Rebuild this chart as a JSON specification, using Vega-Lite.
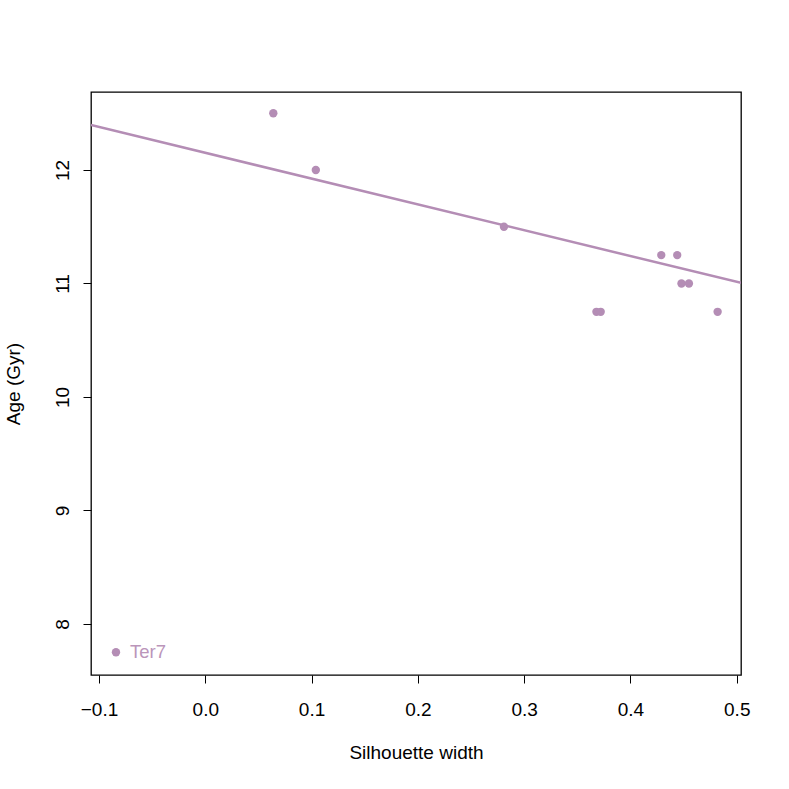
{
  "$schema": "https://vega.github.io/schema/vega-lite/v6.json",
  "width": 650,
  "height": 583,
  "autosize": "none",
  "padding": {"left": 91, "top": 92, "right": 48, "bottom": 114},
  "background": "white",
  "config": {
    "view": {"stroke": "black", "strokeWidth": 1.3},
    "font": "Liberation Sans",
    "axis": {
      "domain": false,
      "grid": false,
      "tickColor": "black",
      "tickSize": 8,
      "tickWidth": 1,
      "labelFont": "Liberation Sans",
      "labelFontSize": 19,
      "labelColor": "black",
      "titleFont": "Liberation Sans",
      "titleFontSize": 19,
      "titleFontWeight": "normal",
      "titleColor": "black"
    }
  },
  "datasets": {
    "pts": [
      {"sil": 0.064, "age": 12.5, "label": ""},
      {"sil": 0.104, "age": 12.0, "label": ""},
      {"sil": 0.281, "age": 11.5, "label": ""},
      {"sil": 0.368, "age": 10.75, "label": ""},
      {"sil": 0.372, "age": 10.75, "label": ""},
      {"sil": 0.429, "age": 11.25, "label": ""},
      {"sil": 0.444, "age": 11.25, "label": ""},
      {"sil": 0.448, "age": 11.0, "label": ""},
      {"sil": 0.455, "age": 11.0, "label": ""},
      {"sil": 0.482, "age": 10.75, "label": ""},
      {"sil": -0.084, "age": 7.75, "label": "Ter7"}
    ],
    "fit": [
      {"sil": -0.1075, "age": 12.396},
      {"sil": 0.504, "age": 11.005}
    ]
  },
  "layer": [
    {
      "data": {"name": "fit"},
      "mark": {"type": "line", "color": "#B48DB5", "strokeWidth": 2.5, "clip": true},
      "encoding": {
        "x": {"field": "sil", "type": "quantitative", "scale": {"domain": [-0.1075, 0.504], "nice": false, "zero": false},
          "axis": {"values": [-0.1, 0, 0.1, 0.2, 0.3, 0.4, 0.5], "format": ".1f", "title": "Silhouette width", "labelPadding": 17, "titlePadding": 24}},
        "y": {"field": "age", "type": "quantitative", "scale": {"domain": [7.55, 12.687], "nice": false, "zero": false},
          "axis": {"values": [8, 9, 10, 11, 12], "format": "d", "title": "Age (Gyr)", "labelAngle": -90, "labelAlign": "center", "labelBaseline": "bottom", "labelPadding": 11, "titlePadding": 30}}
      }
    },
    {
      "data": {"name": "pts"},
      "mark": {"type": "circle", "color": "#B48DB5", "opacity": 1, "size": 70},
      "encoding": {
        "x": {"field": "sil", "type": "quantitative"},
        "y": {"field": "age", "type": "quantitative"}
      }
    },
    {
      "data": {"name": "pts"},
      "mark": {"type": "text", "color": "#BB95BA", "align": "left", "baseline": "middle", "dx": 14, "fontSize": 18.5, "font": "Liberation Sans"},
      "encoding": {
        "x": {"field": "sil", "type": "quantitative"},
        "y": {"field": "age", "type": "quantitative"},
        "text": {"field": "label"}
      }
    }
  ]
}
